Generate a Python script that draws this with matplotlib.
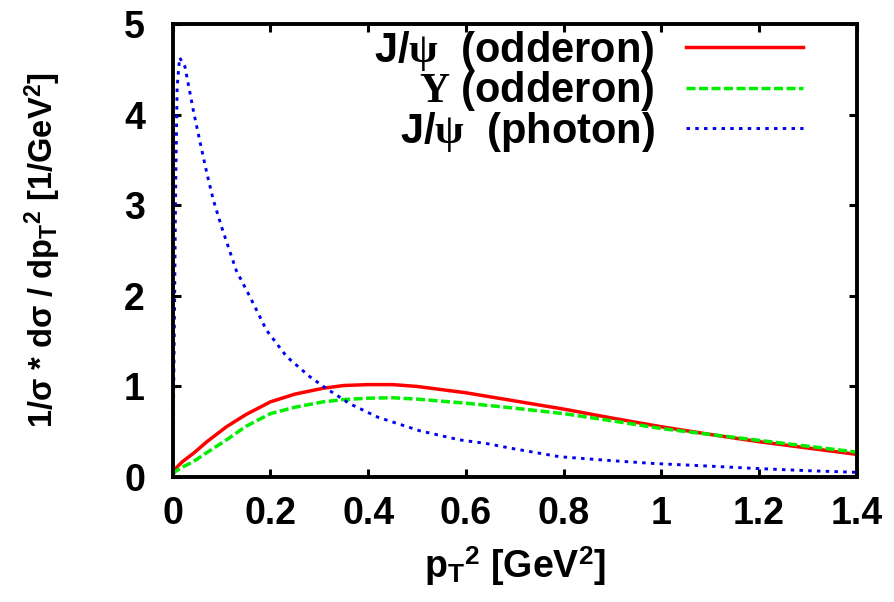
import matplotlib
matplotlib.use("Agg")
import matplotlib.pyplot as plt

# p_T^2 grid and curves
pt2_odd = [0.0, 0.005, 0.02, 0.042, 0.07, 0.11, 0.15, 0.2, 0.25, 0.308, 0.35,
           0.4, 0.45, 0.5, 0.6, 0.7, 0.8, 0.9, 1.0, 1.1, 1.2, 1.3, 1.4]
jpsi_odderon = [0.03, 0.09, 0.17, 0.26, 0.39, 0.555, 0.69, 0.83, 0.915, 0.98, 1.01,
                1.02, 1.02, 1.0, 0.93, 0.84, 0.75, 0.65, 0.555, 0.47, 0.39, 0.32, 0.25]
ups_odderon = [0.03, 0.06, 0.11, 0.17, 0.27, 0.41, 0.56, 0.70, 0.77, 0.83, 0.855,
               0.87, 0.875, 0.86, 0.815, 0.76, 0.70, 0.62, 0.535, 0.47, 0.405, 0.34, 0.275]

pt2_phot = [0.0, 0.003, 0.006, 0.009, 0.014, 0.025, 0.042, 0.055, 0.07, 0.083, 0.1,
            0.13, 0.158, 0.192, 0.233, 0.28, 0.311, 0.362, 0.42, 0.506, 0.587, 0.642,
            0.7, 0.792, 0.9, 0.983, 1.1, 1.188, 1.3, 1.4]
jpsi_photon = [0.0, 1.5, 3.2, 4.3, 4.63, 4.53, 4.05, 3.72, 3.35, 3.06, 2.76,
               2.28, 1.99, 1.62, 1.33, 1.11, 0.99, 0.81, 0.66, 0.51, 0.41, 0.37,
               0.31, 0.224, 0.18, 0.15, 0.12, 0.096, 0.07, 0.052]

x_ticks = [0, 0.2, 0.4, 0.6, 0.8, 1.0, 1.2, 1.4]
x_ticklabels = ["0", "0.2", "0.4", "0.6", "0.8", "1", "1.2", "1.4"]
y_ticks = [0, 1, 2, 3, 4, 5]

plt.rcParams["font.family"] = ["Liberation Sans", "DejaVu Sans"]
plt.rcParams["font.weight"] = "bold"
plt.rcParams["axes.labelweight"] = "bold"
plt.rcParams["mathtext.fontset"] = "custom"
plt.rcParams["mathtext.rm"] = "Liberation Serif"
plt.rcParams["mathtext.it"] = "Liberation Serif:italic"
plt.rcParams["mathtext.bf"] = "Liberation Sans:bold"
plt.rcParams["mathtext.sf"] = "Liberation Sans:bold"

fig = plt.figure(figsize=(8.95, 6.02), dpi=100)
ax = fig.add_axes([0.193, 0.2076, 0.7642, 0.7525])

ax.plot(pt2_odd, jpsi_odderon, color="#ff0000", lw=2.5, ls="-",
        label=r"J/$\mathrm{\psi}$  (odderon)")
ax.plot(pt2_odd, ups_odderon, color="#00ee00", lw=2.5, ls=(0, (2.6, 1.0)),
        label=r"$\mathrm{\Upsilon}$ (odderon)")
ax.plot(pt2_phot, jpsi_photon, color="#0000ee", lw=2.1, ls=(0, (1.2, 1.8)),
        label=r"J/$\mathrm{\psi}$  (photon)")

ax.set_xlim(0, 1.4)
ax.set_ylim(0, 5)
ax.set_xticks(x_ticks)
ax.set_xticklabels(x_ticklabels)
ax.set_yticks(y_ticks)
ax.tick_params(direction="in", length=6, width=2.2, top=True, right=True,
               labelsize=27)
ax.tick_params(axis="x", pad=14)
ax.tick_params(axis="y", pad=20)
for s in ax.spines.values():
    s.set_linewidth(2.8)

ax.set_xlabel(r"p$_\mathbf{T}$$^\mathbf{2}$ [GeV$^\mathbf{2}$]", fontsize=27, labelpad=9)
ax.set_ylabel(r"1/σ * dσ / dp$_\mathbf{T}$$^\mathbf{2}$ [1/GeV$^\mathbf{2}$]",
              fontsize=23.5, labelpad=44)

leg = ax.legend(loc="upper right", bbox_to_anchor=(0.921, 0.99), frameon=False,
                markerfirst=False, fontsize=30, handlelength=2.8,
                handletextpad=0.75, labelspacing=-0.08, borderaxespad=0,
                borderpad=0)

fig.savefig("out.png", dpi=100)
